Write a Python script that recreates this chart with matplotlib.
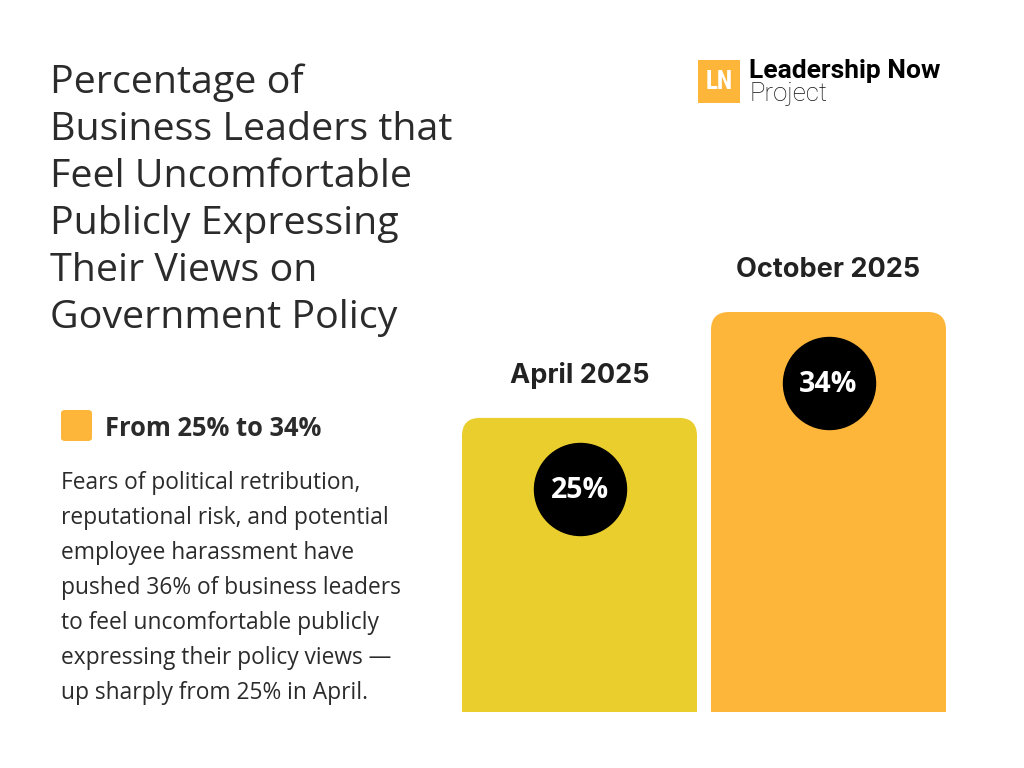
import matplotlib
matplotlib.use("Agg")
import matplotlib.pyplot as plt
from matplotlib.patches import FancyBboxPatch, Rectangle

# --- data ---
periods = ["April 2025", "October 2025"]
values = [25, 34]
bar_colors = ["#E9CE2E", "#FDB639"]
title_lines = ["Percentage of", "Business Leaders that", "Feel Uncomfortable",
               "Publicly Expressing", "Their Views on", "Government Policy"]
legend_label = "From 25% to 34%"
body_lines = ["Fears of political retribution,",
              "reputational risk, and potential",
              "employee harassment have",
              "pushed 36% of business leaders",
              "to feel uncomfortable publicly",
              "expressing their policy views \u2014",
              "up sharply from 25% in April."]

W, H = 1024, 768
fig = plt.figure(figsize=(W / 100, H / 100), dpi=100)
fig.patch.set_facecolor("white")


def px(x, y):
    return x / W, 1 - y / H


TXT = "#2b2b2b"

# title
for i, line in enumerate(title_lines):
    fig.text(*px(50, 93 + 47 * i), line, fontsize=28.4, family="Open Sans",
             color=TXT, va="baseline", ha="left")

# legend square + label
fig.patches.append(FancyBboxPatch(px(61, 441), 31 / W, 31 / H,
                                  boxstyle="round,pad=0,rounding_size=0.004",
                                  transform=fig.transFigure, fc="#FDB639", ec="none"))
fig.text(*px(105, 436), legend_label, fontsize=18.4, family="Open Sans",
         weight="bold", color=TXT, va="baseline")

for i, line in enumerate(body_lines):
    fig.text(*px(61, 489 + 35 * i), line, fontsize=16.4, family="Open Sans",
             color=TXT, va="baseline")

# logo
fig.patches.append(Rectangle(px(698, 103), 42 / W, 43 / H,
                             transform=fig.transFigure, fc="#FDB639", ec="none"))
fig.text(*px(719, 82), "LN", fontsize=18, family="Roboto Condensed",
         weight="bold", color="white", ha="center", va="center")
fig.text(*px(749, 78), "Leadership Now", fontsize=19, family="Roboto",
         weight="bold", color="black", va="baseline")
fig.text(*px(749, 101), "Project", fontsize=18.5, family="Roboto",
         weight="light", color="#111111", va="baseline")

# bars
x0, x1, ytop, ybot = 462, 946, 312, 712
ax = fig.add_axes([x0 / W, 1 - ybot / H, (x1 - x0) / W, (ybot - ytop) / H])
ax.set_axis_off()
width = 235 / 249
ax.set_xlim(-width / 2, 1 + width / 2)
ax.set_ylim(0, max(values))
ppx = (x1 - x0) / (1 + width)          # pixels per x unit
ppy = (ybot - ytop) / max(values)      # pixels per y unit
r = 18 / ppx
for i, (v, c) in enumerate(zip(values, bar_colors)):
    left = i - width / 2
    ax.add_patch(FancyBboxPatch((left, 0), width, v,
                                boxstyle=f"round,pad=0,rounding_size={r}",
                                mutation_aspect=ppx / ppy, fc=c, ec="none",
                                clip_on=False))
    ax.add_patch(Rectangle((left, 0), width, v / 2, fc=c, ec="none"))
    ax.annotate(periods[i], (i, v), xytext=(0, 25), textcoords="offset points",
                ha="center", va="baseline", fontsize=19.5, family="Inter",
                weight="bold", color="#222222", annotation_clip=False)
    cy = v - 71 / ppy
    ax.scatter([i], [cy], s=(92 * 0.72) ** 2, color="black", zorder=3, clip_on=False)
    ax.text(i, cy - 1.5 / ppy, f"{v}%", ha="center", va="center", fontsize=20.5,
            family="Open Sans", weight="bold", color="white", zorder=4)

fig.savefig("out.png", dpi=100)
